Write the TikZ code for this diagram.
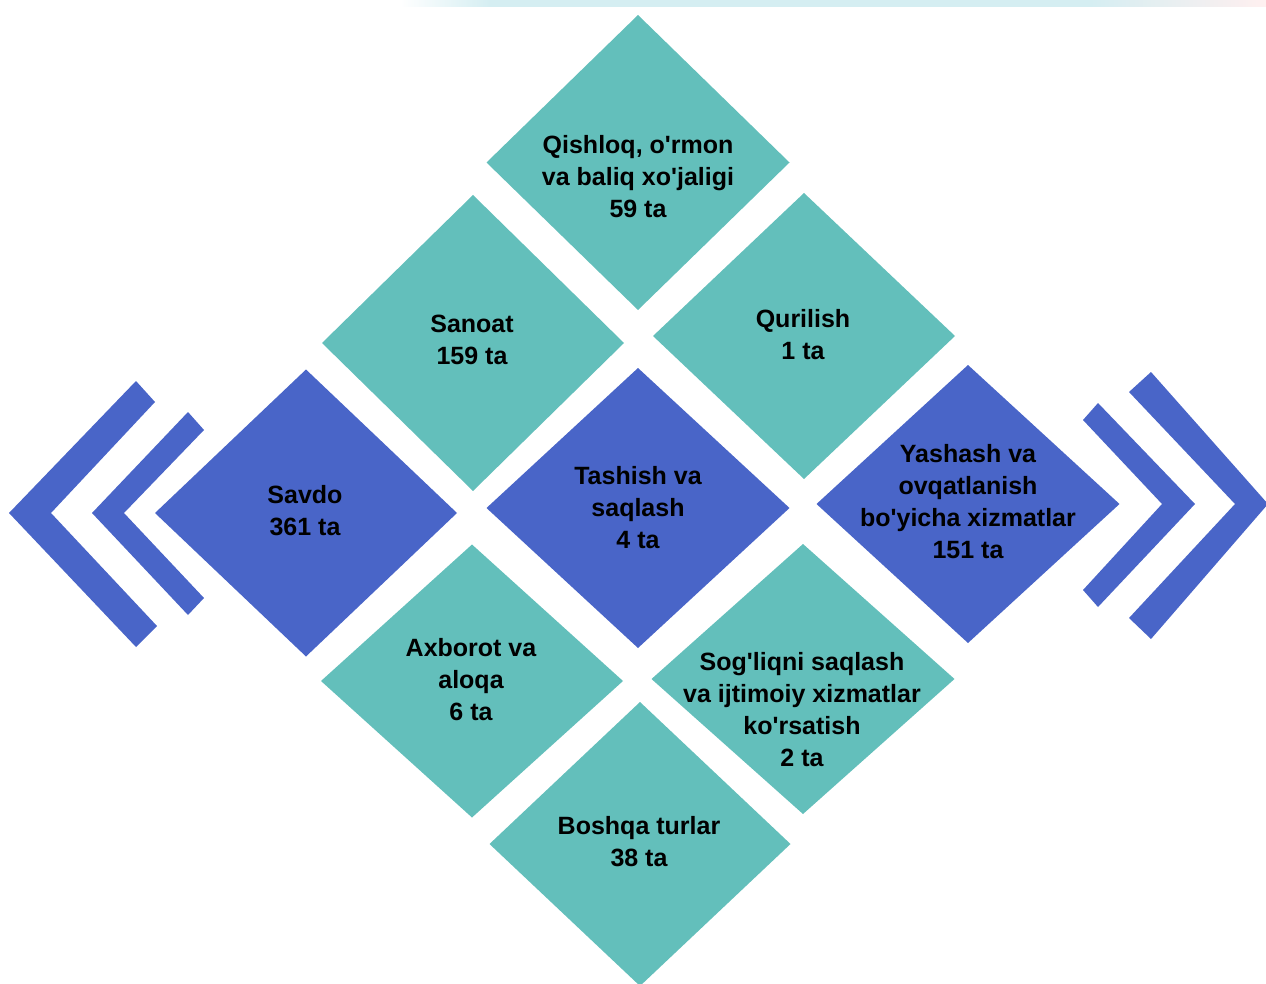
\documentclass[tikz,border=0pt]{standalone}
\usepackage{fontspec}
\setmainfont{Liberation Sans}[Ligatures=TeXOff]
\usetikzlibrary{shapes.geometric}
\definecolor{tealbox}{RGB}{99,191,187}
\definecolor{bluebox}{RGB}{73,101,200}
\definecolor{stripc}{RGB}{213,238,242}
\tikzset{
  dia/.style={diamond, inner sep=0pt, outer sep=0pt, draw=none},
  tealdia/.style={dia, fill=tealbox},
  bluedia/.style={dia, fill=bluebox},
  lbl/.style={align=center, font=\fontsize{25}{32}\selectfont\bfseries, text=black, inner sep=0pt},
  chev/.style={fill=bluebox, draw=none}
}
\begin{document}
\begin{tikzpicture}[x=1pt,y=-1pt]
\useasboundingbox (0,0) rectangle (1266,984);
\clip (0,0) rectangle (1266,984);
% top strip
\shade[left color=white, right color=stripc] (400,0) rectangle (490,7);
\fill[stripc] (490,0) rectangle (1090,7);
\shade[left color=stripc, right color=white!94!red] (1090,0) rectangle (1266,7);
% diamonds
\node[tealdia, minimum width=303, minimum height=295] (q) at (638,162.5) {};
\node[tealdia, minimum width=302, minimum height=296] (s) at (473,343) {};
\node[tealdia, minimum width=302, minimum height=286] (k) at (804,336) {};
\node[bluedia, minimum width=302, minimum height=287] (v) at (306,513) {};
\node[bluedia, minimum width=303, minimum height=280] (t) at (638,508) {};
\node[bluedia, minimum width=303, minimum height=278] (y) at (968,504) {};
\node[tealdia, minimum width=302, minimum height=273] (a) at (472,681) {};
\node[tealdia, minimum width=303, minimum height=270] (g) at (803,679) {};
\node[tealdia, minimum width=301, minimum height=284] (b) at (640,844) {};
% labels
\node[lbl] (qt) at (638,177) {Qishloq, o'rmon\\va baliq xo'jaligi\\59 ta};
\node[lbl] (st) at (472,340) {Sanoat\\159 ta};
\node[lbl] (kt) at (803,335) {Qurilish\\1 ta};
\node[lbl] (vt) at (305,511) {Savdo\\361 ta};
\node[lbl] (tt) at (638,508) {Tashish va\\saqlash\\4 ta};
\node[lbl] (yt) at (968,502) {Yashash va\\ovqatlanish\\bo'yicha xizmatlar\\151 ta};
\node[lbl] (at) at (471,680) {Axborot va\\aloqa\\6 ta};
\node[lbl] (gt) at (802,710) {Sog'liqni saqlash\\va ijtimoiy xizmatlar\\ko'rsatish\\2 ta};
\node[lbl] (bt) at (639,842) {Boshqa turlar\\38 ta};
% left chevrons
\fill[chev] (9,513) -- (136,381) -- (155,402) -- (51,513) -- (157,626) -- (136,647) -- cycle;
\fill[chev] (92,513) -- (188,412) -- (204,430) -- (124,513) -- (204,598) -- (188,615) -- cycle;
% right chevrons
\fill[chev] (1195,504) -- (1098,403) -- (1083,420) -- (1162,504) -- (1083,590) -- (1098,607) -- cycle;
\fill[chev] (1268,504) -- (1151,372) -- (1129,392) -- (1235,504) -- (1129,618) -- (1151,639) -- cycle;
\end{tikzpicture}
\end{document}
